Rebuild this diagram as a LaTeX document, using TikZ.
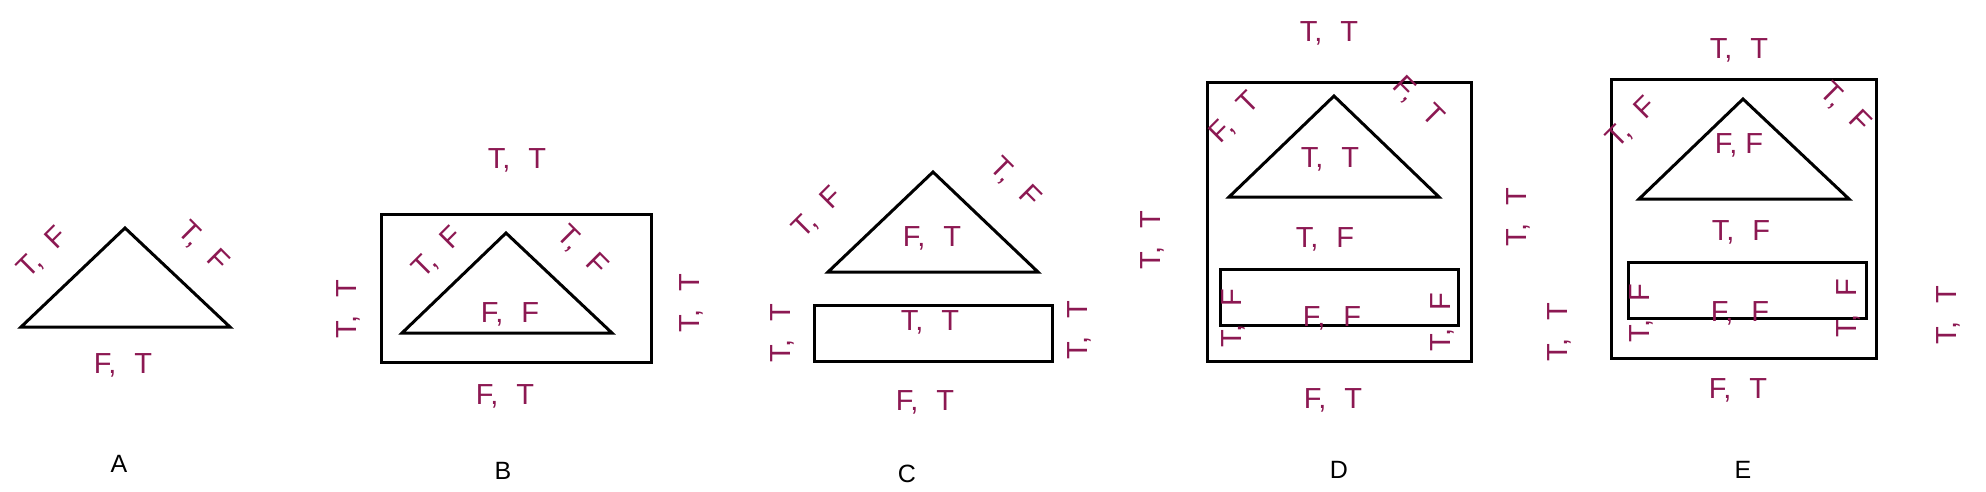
\documentclass[tikz,border=0pt]{standalone}
\usepackage{fontspec}
\setmainfont{Liberation Sans}
\definecolor{lab}{RGB}{140,24,82}
\newcommand{\pp}[2]{#1,\hspace{0.62em}#2}
\begin{document}
\begin{tikzpicture}[x=0.5pt,y=-0.5pt,
  shp/.style={line width=1.5pt,line join=miter},
  lbl/.style={text=lab,font=\fontsize{14.5}{16}\selectfont,inner sep=0pt,anchor=center},
  capletter/.style={text=black,font=\fontsize{12.5}{14}\selectfont,inner sep=0pt,anchor=center}]
\useasboundingbox (0,0) rectangle (1986,492);
% ---------- A ----------
\draw[shp] (21,327) -- (125,228) -- (230,327) -- cycle;
\node[lbl,rotate=45] (a1) at (43,253) {\pp{T}{F}};
\node[lbl,rotate=-45] (a2) at (203,247) {\pp{T}{F}};
\node[lbl] (a3) at (123,365) {\pp{F}{T}};
\node[capletter] (capA) at (119,464) {A};
% ---------- B ----------
\draw[shp] (381,214) rectangle (651,362);
\draw[shp] (402,333) -- (506,233) -- (612,333) -- cycle;
\node[lbl] (b1) at (517,160) {\pp{T}{T}};
\node[lbl,rotate=90] (b2) at (348,309) {\pp{T}{T}};
\node[lbl,rotate=90] (b3) at (691,303) {\pp{T}{T}};
\node[lbl] (b4) at (505,396) {\pp{F}{T}};
\node[lbl] (b5) at (510,314) {\pp{F}{F}};
\node[lbl,rotate=45] (b6) at (438,253) {\pp{T}{F}};
\node[lbl,rotate=-45] (b7) at (582,251) {\pp{T}{F}};
\node[capletter] (capB) at (503,471) {B};
% ---------- C ----------
\draw[shp] (828,272) -- (933,172) -- (1038,272) -- cycle;
\draw[shp] (814,305) rectangle (1052,361);
\node[lbl,rotate=45] (c1) at (818,213) {\pp{T}{F}};
\node[lbl,rotate=-45] (c2) at (1015,183) {\pp{T}{F}};
\node[lbl] (c3) at (932,238) {\pp{F}{T}};
\node[lbl] (c4) at (930,322) {\pp{T}{T}};
\node[lbl,rotate=90] (c5) at (782,333) {\pp{T}{T}};
\node[lbl,rotate=90] (c6) at (1079,330) {\pp{T}{T}};
\node[lbl] (c7) at (925,402) {\pp{F}{T}};
\node[capletter] (capC) at (907,474) {C};
% ---------- D ----------
\draw[shp] (1207,83) rectangle (1471,361);
\draw[shp] (1229,197) -- (1334,96) -- (1439,197) -- cycle;
\draw[shp] (1220,269) rectangle (1458,325);
\node[lbl] (d1) at (1329,33) {\pp{T}{T}};
\node[lbl] (d2) at (1333,400) {\pp{F}{T}};
\node[lbl,rotate=90] (d3) at (1152,240) {\pp{T}{T}};
\node[lbl,rotate=90] (d4) at (1518,217) {\pp{T}{T}};
\node[lbl,rotate=45] (d5) at (1235,118) {\pp{F}{T}};
\node[lbl,rotate=-45] (d6) at (1418,102) {\pp{F}{T}};
\node[lbl] (d7) at (1330,159) {\pp{T}{T}};
\node[lbl] (d8) at (1325,239) {\pp{T}{F}};
\node[lbl] (d9) at (1332,318) {\pp{F}{F}};
\node[lbl,rotate=90] (d10) at (1233,318) {\pp{T}{F}};
\node[lbl,rotate=90] (d11) at (1442,322) {\pp{T}{F}};
\node[capletter] (capD) at (1339,470) {D};
% ---------- E ----------
\draw[shp] (1611,80) rectangle (1876,358);
\draw[shp] (1639,199) -- (1743,99) -- (1849,199) -- cycle;
\draw[shp] (1628,262) rectangle (1866,318);
\node[lbl] (e1) at (1739,50) {\pp{T}{T}};
\node[lbl] (e2) at (1738,390) {\pp{F}{T}};
\node[lbl,rotate=90] (e3) at (1559,332) {\pp{T}{T}};
\node[lbl,rotate=90] (e4) at (1948,315) {\pp{T}{T}};
\node[lbl,rotate=45] (e5) at (1632,123) {\pp{T}{F}};
\node[lbl,rotate=-45] (e6) at (1845,108) {\pp{T}{F}};
\node[lbl] (e7) at (1739,145) {F, F};
\node[lbl] (e8) at (1741,232) {\pp{T}{F}};
\node[lbl] (e9) at (1740,313) {\pp{F}{F}};
\node[lbl,rotate=90] (e10) at (1641,313) {\pp{T}{F}};
\node[lbl,rotate=90] (e11) at (1848,308) {\pp{T}{F}};
\node[capletter] (capE) at (1743,470) {E};
\end{tikzpicture}
\end{document}
